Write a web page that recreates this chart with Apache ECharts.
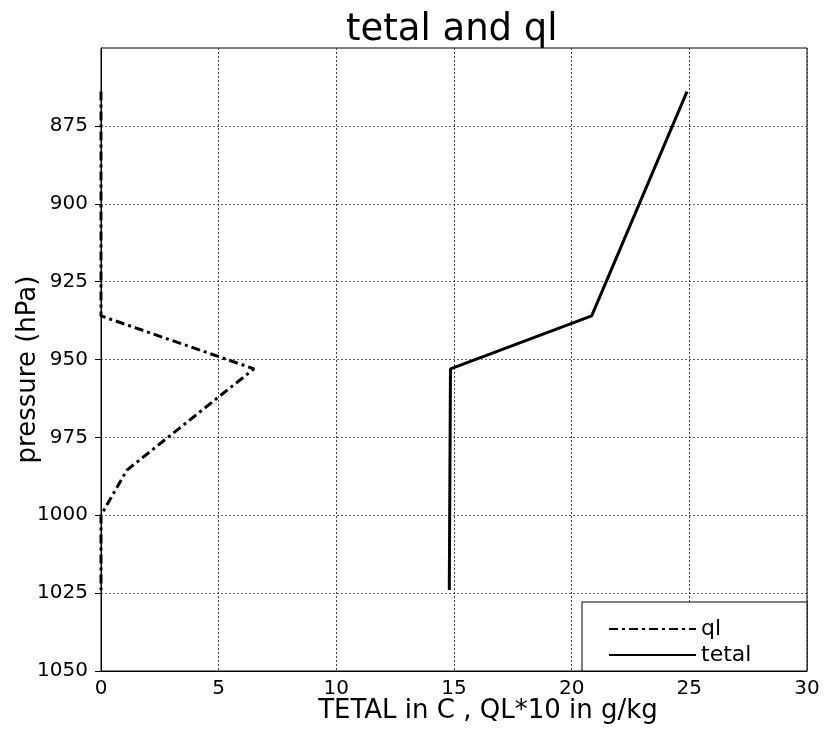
<!DOCTYPE html>
<html>
<head>
    <meta charset="utf-8">
    <title>tetal and ql</title>
    <script src="https://cdn.jsdelivr.net/npm/echarts@6/dist/echarts.min.js"></script>
</head>
<body style="margin:0;background:#fff">
    <div id="main" style="width: 826px;height:731px;"></div>
<script type="text/javascript">
    // profile values: [x, pressure]
    var tetalX = [24.9, 20.85, 14.85, 14.8];
    var tetalP = [864, 936, 953, 1024];
    var qlX = [0, 0, 6.5, 1.1, 0, 0];
    var qlP = [864, 936, 953, 985.5, 1000, 1024];
    var pressureTicks = [875, 900, 925, 950, 975, 1000, 1025, 1050];

    function pairs(xs, ps) {
        var out = [];
        for (var i = 0; i < xs.length; i++) out.push([xs[i], ps[i]]);
        return out;
    }

    var font = 'DejaVu Sans';
    var myChart = echarts.init(document.getElementById('main'));

    var option = {
        backgroundColor: '#fff',
        animation: false,
        title: {
            text: 'tetal and ql',
            left: 341,
            top: 7,
            textStyle: { fontFamily: font, fontSize: 37, fontWeight: 'normal', color: '#000' }
        },
        grid: {
            left: 101, right: 19, top: 48, bottom: 60,
            outerBoundsMode: 'none',
            containLabel: false,
            show: true, borderColor: '#000', borderWidth: 1
        },
        xAxis: {
            type: 'value',
            min: 0, max: 30, interval: 5,
            name: 'TETAL in C , QL*10 in g/kg',
            nameLocation: 'middle',
            nameGap: 27,
            nameMoveOverlap: false,
            nameTextStyle: { fontFamily: font, fontSize: 26, color: '#000', padding: [0, 0, 0, 68] },
            axisLine: { lineStyle: { color: '#000', width: 1 } },
            axisTick: { show: false },
            axisLabel: { fontFamily: font, fontSize: 20, color: '#000', margin: 8 },
            splitLine: { show: true, lineStyle: { color: '#444', type: [2, 2], width: 1 } }
        },
        yAxis: {
            type: 'value',
            inverse: true,
            min: 850, max: 1050, interval: 25,
            name: 'pressure (hPa)',
            nameLocation: 'middle',
            nameGap: 60,
            nameMoveOverlap: false,
            nameTextStyle: { fontFamily: font, fontSize: 26, color: '#000', padding: [0, 20, 0, 0] },
            axisLine: { show: true, lineStyle: { color: '#000', width: 1 } },
            axisTick: { show: true, inside: false, length: 6, customValues: pressureTicks, lineStyle: { color: '#000' } },
            axisLabel: {
                fontFamily: font, fontSize: 20, color: '#000', margin: 13, customValues: pressureTicks,
                formatter: function (v) { return String(v); }
            },
            splitLine: { show: true, lineStyle: { color: '#666', type: [2, 2], width: 1 } }
        },
        legend: {
            orient: 'vertical',
            left: 603, top: 613,
            itemWidth: 87, itemHeight: 20, itemGap: 4,
            z: 11,
            itemStyle: { opacity: 0 },
            textStyle: { fontFamily: font, fontSize: 22, color: '#000', lineHeight: 20 },
            data: ['ql', 'tetal']
        },
        graphic: [{
            type: 'rect',
            z: 10,
            shape: { x: 582, y: 602, width: 225, height: 69 },
            style: { fill: '#fff', stroke: '#000', lineWidth: 1 }
        }],
        series: [{
            name: 'ql',
            type: 'line',
            symbol: 'none',
            z: 3,
            lineStyle: { color: '#000', width: 3, type: [9, 4, 3, 4] },
            itemStyle: { color: '#000' },
            data: pairs(qlX, qlP)
        }, {
            name: 'tetal',
            type: 'line',
            symbol: 'none',
            z: 3,
            lineStyle: { color: '#000', width: 3 },
            itemStyle: { color: '#000' },
            data: pairs(tetalX, tetalP)
        }]
    };

    myChart.setOption(option);
</script>
</body>
</html>
